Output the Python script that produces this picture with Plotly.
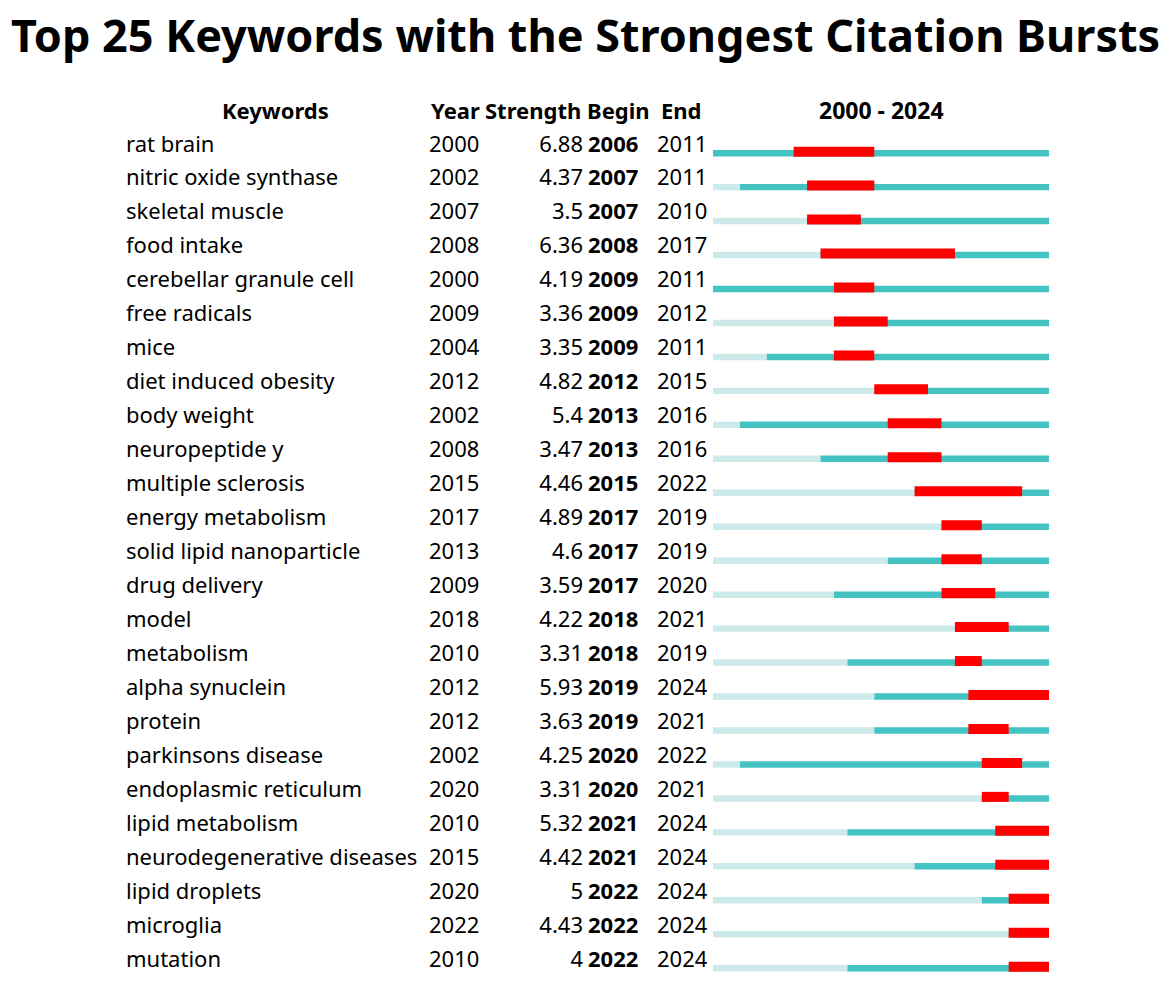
import plotly.graph_objects as go

keywords = ["rat brain", "nitric oxide synthase", "skeletal muscle", "food intake",
            "cerebellar granule cell", "free radicals", "mice", "diet induced obesity",
            "body weight", "neuropeptide y", "multiple sclerosis", "energy metabolism",
            "solid lipid nanoparticle", "drug delivery", "model", "metabolism",
            "alpha synuclein", "protein", "parkinsons disease", "endoplasmic reticulum",
            "lipid metabolism", "neurodegenerative diseases", "lipid droplets",
            "microglia", "mutation"]
years = [2000, 2002, 2007, 2008, 2000, 2009, 2004, 2012, 2002, 2008, 2015, 2017,
         2013, 2009, 2018, 2010, 2012, 2012, 2002, 2020, 2010, 2015, 2020, 2022, 2010]
strength = ["6.88", "4.37", "3.5", "6.36", "4.19", "3.36", "3.35", "4.82", "5.4", "3.47",
            "4.46", "4.89", "4.6", "3.59", "4.22", "3.31", "5.93", "3.63", "4.25", "3.31",
            "5.32", "4.42", "5", "4.43", "4"]
begin = [2006, 2007, 2007, 2008, 2009, 2009, 2009, 2012, 2013, 2013, 2015, 2017,
         2017, 2017, 2018, 2018, 2019, 2019, 2020, 2020, 2021, 2021, 2022, 2022, 2022]
end = [2011, 2011, 2010, 2017, 2011, 2012, 2011, 2015, 2016, 2016, 2022, 2019,
       2019, 2020, 2021, 2019, 2024, 2021, 2022, 2021, 2024, 2024, 2024, 2024, 2024]
headers = ["Keywords", "Year", "Strength", "Begin", "End"]
start_year, end_year = 2000, 2024
title = "Top 25 Keywords with the Strongest Citation Bursts"

W, H = 1170, 985
row_px = 33.96
first_px = 144.0
n = len(keywords)
rows = list(range(n))
y_top = -first_px / row_px
y_bot = (H - first_px) / row_px
text_rows = [r + 2 / row_px for r in rows]

FONT = "Noto Sans"
FS = 22
LIGHT = "#cdeaea"
TEAL = "#45c2c2"
RED = "#ff0000"

fig = go.Figure()

# timeline bars (xaxis2 in years)
teal_off, teal_w = 0.27, 0.19
red_off, red_w = 0.225, 0.295
fig.add_trace(go.Bar(orientation="h", y=[r + teal_off for r in rows],
                     base=[start_year] * n, x=[y - start_year for y in years],
                     width=teal_w, marker=dict(color=LIGHT, line=dict(width=0)),
                     xaxis="x2", yaxis="y", showlegend=False, hoverinfo="skip"))
fig.add_trace(go.Bar(orientation="h", y=[r + teal_off for r in rows],
                     base=years, x=[end_year + 1 - y for y in years],
                     width=teal_w, marker=dict(color=TEAL, line=dict(width=0)),
                     xaxis="x2", yaxis="y", showlegend=False, hoverinfo="skip"))
fig.add_trace(go.Bar(orientation="h", y=[r + red_off for r in rows],
                     base=begin, x=[e + 1 - b for b, e in zip(begin, end)],
                     width=red_w, marker=dict(color=RED, line=dict(width=0)),
                     xaxis="x2", yaxis="y", showlegend=False, hoverinfo="skip"))

# table text (xaxis in pixel-like units)
def col(xpos, texts, pos, bold=False):
    fig.add_trace(go.Scatter(x=[xpos] * n, y=text_rows, mode="text", text=texts,
                             textposition=pos,
                             textfont=dict(family=FONT, size=FS, color="black",
                                           weight="bold" if bold else "normal"),
                             xaxis="x", yaxis="y", showlegend=False, hoverinfo="skip"))

col(126, keywords, "middle right")
col(429, [str(v) for v in years], "middle right")
col(583, strength, "middle left")
col(588, [str(v) for v in begin], "middle right", bold=True)
col(657, [str(v) for v in end], "middle right")

# headers
hdr_y = (110 - first_px) / row_px
hx = [275, 455, 533, 618, 681]
for t, x in zip(headers, hx):
    fig.add_annotation(x=x, y=hdr_y, xref="x", yref="y", text=f"<b>{t}</b>",
                       showarrow=False, xanchor="center", yanchor="middle",
                       font=dict(family=FONT, size=FS, color="black"))
fig.add_annotation(x=(start_year + end_year + 1) / 2, y=hdr_y, xref="x2", yref="y",
                   text=f"<b>{start_year} - {end_year}</b>", showarrow=False,
                   xanchor="center", yanchor="middle",
                   font=dict(family=FONT, size=23, color="black"))

fig.add_annotation(x=0.5, y=1 - 35 / H, xref="paper", yref="paper",
                   text=f"<b>{title}</b>", showarrow=False, xanchor="center",
                   yanchor="middle", font=dict(family=FONT, size=45, color="black"))

fig.update_layout(
    width=W, height=H, margin=dict(l=0, r=0, t=0, b=0),
    paper_bgcolor="white", plot_bgcolor="white", barmode="overlay",
    xaxis=dict(range=[0, W], domain=[0, 1], visible=False, fixedrange=True, anchor="y"),
    xaxis2=dict(range=[start_year, end_year + 1], domain=[713 / W, 1049 / W],
                visible=False, anchor="y", fixedrange=True),
    yaxis=dict(range=[y_bot, y_top], visible=False, fixedrange=True),
)

fig.write_html("out.html", config={"displayModeBar": False},
               post_script="document.body.style.margin='0';document.body.style.overflow='hidden';")
